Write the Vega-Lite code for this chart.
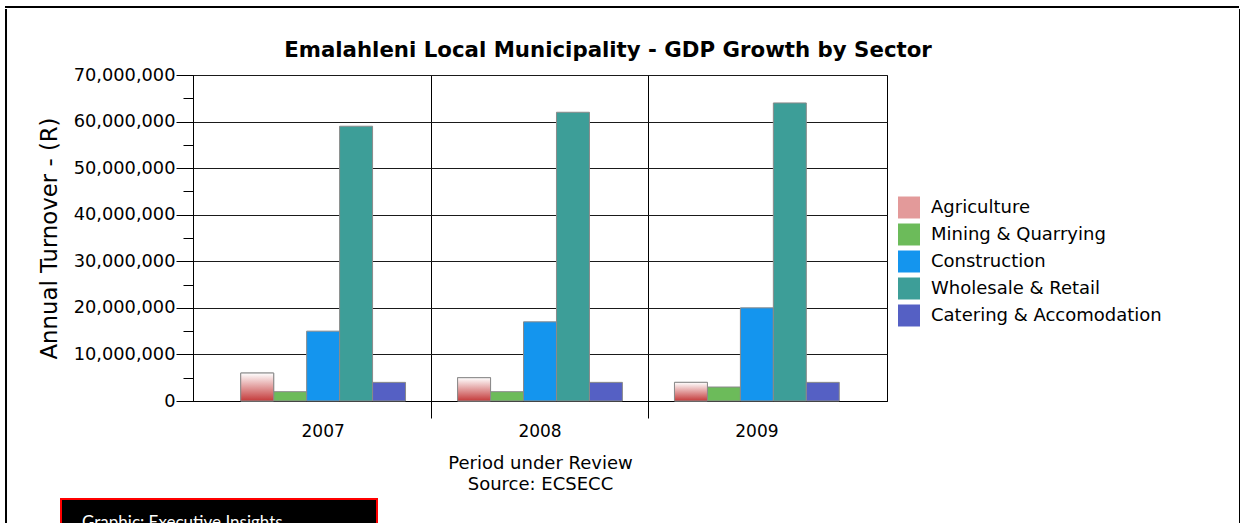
{
  "$schema": "https://vega.github.io/schema/vega-lite/v6.json",
  "background": "white",
  "padding": {"left": 5, "top": 6, "right": 0, "bottom": 0},
  "autosize": {"type": "pad"},
  "config": {
    "font": "DejaVu Sans",
    "view": {"stroke": "#000000", "strokeWidth": 1},
    "axis": {"labelColor": "#000000", "titleColor": "#000000", "domainColor": "#000000", "tickColor": "#000000"}
  },
  "datasets": {
    "gdp": [
      {"year": "2007", "sector": "Agriculture", "turnover": 6000000},
      {"year": "2007", "sector": "Mining & Quarrying", "turnover": 2000000},
      {"year": "2007", "sector": "Construction", "turnover": 15000000},
      {"year": "2007", "sector": "Wholesale & Retail", "turnover": 59000000},
      {"year": "2007", "sector": "Catering & Accomodation", "turnover": 4000000},
      {"year": "2008", "sector": "Agriculture", "turnover": 5000000},
      {"year": "2008", "sector": "Mining & Quarrying", "turnover": 2000000},
      {"year": "2008", "sector": "Construction", "turnover": 17000000},
      {"year": "2008", "sector": "Wholesale & Retail", "turnover": 62000000},
      {"year": "2008", "sector": "Catering & Accomodation", "turnover": 4000000},
      {"year": "2009", "sector": "Agriculture", "turnover": 4000000},
      {"year": "2009", "sector": "Mining & Quarrying", "turnover": 3000000},
      {"year": "2009", "sector": "Construction", "turnover": 20000000},
      {"year": "2009", "sector": "Wholesale & Retail", "turnover": 64000000},
      {"year": "2009", "sector": "Catering & Accomodation", "turnover": 4000000}
    ],
    "footer": [{"label": "Graphic: Executive Insights"}],
    "frame": [{"k": "frame"}]
  },
  "vconcat": [
    {
      "vconcat": [
        {
          "width": 1232,
          "height": 0.01,
          "data": {"name": "frame"},
          "view": {"stroke": "#000000", "strokeWidth": 2, "fill": null},
          "mark": {"type": "text", "text": "", "fontSize": 0},
          "encoding": {}
        },
        {
          "hconcat": [
            {
              "width": 0.01,
              "height": 488,
              "data": {"name": "frame"},
              "view": {"stroke": "#000000", "strokeWidth": 2, "fill": null},
              "mark": {"type": "text", "text": "", "fontSize": 0},
              "encoding": {}
            },
            {
              "concat": [
                {
                  "width": 1,
                  "height": 28.25,
                  "data": {"name": "frame"},
                  "view": {"stroke": null, "fill": null},
                  "mark": {"type": "text", "text": "", "fontSize": 0},
                  "encoding": {}
                },
                {
                  "width": 694,
                  "height": 326,
                  "data": {"name": "gdp"},
                  "title": {
                    "text": "Emalahleni Local Municipality - GDP Growth by Sector",
                    "font": "DejaVu Sans",
                    "fontSize": 21.3,
                    "fontWeight": "bold",
                    "color": "#000000",
                    "anchor": "middle",
                    "frame": "group",
                    "offset": 5,
                    "dx": 68
                  },
                  "resolve": {"axis": {"y": "independent"}},
                  "encoding": {
                    "x": {
                      "field": "year",
                      "type": "nominal",
                      "scale": {"paddingInner": 0, "paddingOuter": 0.1},
                      "axis": {
                        "orient": "bottom",
                        "labelAngle": 0,
                        "labelFontSize": 17,
                        "labelPadding": 5,
                        "tickSize": 17,
                        "bandPosition": 0,
                        "grid": true,
                        "gridColor": {"condition": {"test": "datum.value === '2007'", "value": "transparent"}, "value": "#000000"},
                        "tickColor": {"condition": {"test": "datum.value === '2007'", "value": "transparent"}, "value": "#000000"},
                        "gridOpacity": 1,
                        "domain": true,
                        "title": ["Period under Review", "Source: ECSECC"],
                        "titleFontSize": 18,
                        "titleFontWeight": "normal",
                        "titleLineHeight": 21,
                        "titlePadding": 15
                      }
                    },
                    "xOffset": {
                      "field": "sector",
                      "type": "nominal",
                      "scale": {
                        "domain": ["Agriculture", "Mining & Quarrying", "Construction", "Wholesale & Retail", "Catering & Accomodation"],
                        "paddingInner": 0,
                        "paddingOuter": 0.79
                      }
                    },
                    "y": {
                      "field": "turnover",
                      "type": "quantitative",
                      "scale": {"domain": [0, 70000000]},
                      "axis": {
                        "orient": "left",
                        "values": [0, 10000000, 20000000, 30000000, 40000000, 50000000, 60000000, 70000000],
                        "labelExpr": "format(datum.value, ',')",
                        "labelFontSize": 17.8,
                        "labelPadding": 1,
                        "tickSize": 17,
                        "grid": true,
                        "gridColor": "#1a1a1a",
                        "gridOpacity": 1,
                        "title": "Annual Turnover - (R)",
                        "titleFontSize": 22.8,
                        "titleFontWeight": "normal",
                        "titlePadding": 12
                      }
                    }
                  },
                  "layer": [
                    {
                      "mark": {"type": "bar", "stroke": "#8a8a8a", "strokeWidth": 1},
                      "encoding": {
                        "color": {
                          "field": "sector",
                          "type": "nominal",
                          "scale": {
                            "domain": ["Agriculture", "Mining & Quarrying", "Construction", "Wholesale & Retail", "Catering & Accomodation"],
                            "range": ["#e39a9a", "#6cbb5a", "#1495ee", "#3d9e98", "#5560c4"]
                          },
                          "legend": {
                            "orient": "none",
                            "legendX": 892,
                            "legendY": 189.5,
                            "title": null,
                            "symbolType": "square",
                            "symbolSize": 484,
                            "symbolStrokeWidth": 0,
                            "labelFontSize": 18,
                            "labelColor": "#000000",
                            "labelOffset": 11,
                            "rowPadding": 5,
                            "labelLimit": 400
                          }
                        }
                      }
                    },
                    {
                      "transform": [{"filter": "datum.sector === 'Agriculture'"}],
                      "mark": {
                        "type": "bar",
                        "stroke": "#8a8a8a",
                        "strokeWidth": 1,
                        "color": {"gradient": "linear", "x1": 0, "y1": 0, "x2": 0, "y2": 1, "stops": [{"offset": 0, "color": "#ffffff"}, {"offset": 1, "color": "#c43a3a"}]}
                      },
                      "encoding": {
                        "y": {
                          "field": "turnover",
                          "type": "quantitative",
                          "axis": {
                            "orient": "left",
                            "values": [5000000, 15000000, 25000000, 35000000, 45000000, 55000000, 65000000],
                            "labels": false,
                            "domain": false,
                            "grid": false,
                            "tickSize": 10,
                            "title": null
                          }
                        }
                      }
                    }
                  ]
                }
              ],
              "columns": 1,
              "spacing": 0
            },
            {
              "width": 0.01,
              "height": 488,
              "data": {"name": "frame"},
              "view": {"stroke": "#000000", "strokeWidth": 2, "fill": null},
              "mark": {"type": "text", "text": "", "fontSize": 0},
              "encoding": {
                "y": {
                  "field": "k",
                  "type": "nominal",
                  "axis": {"labels": false, "ticks": false, "domain": false, "title": null, "minExtent": 277, "maxExtent": 277}
                }
              }
            }
          ],
          "spacing": 29
        }
      ],
      "spacing": 0
    },
    {
      "hconcat": [
        {
          "width": 0.01,
          "height": 40,
          "data": {"name": "frame"},
          "view": {"stroke": "#000000", "strokeWidth": 2, "fill": null},
          "mark": {"type": "text", "text": "", "fontSize": 0},
          "encoding": {}
        },
        {
          "width": 316,
          "height": 45,
          "data": {"name": "footer"},
          "view": {"fill": "#000000", "stroke": "#ff0000", "strokeWidth": 2},
          "title": {
            "text": "Graphic: Executive Insights",
            "orient": "top",
            "anchor": "start",
            "frame": "group",
            "offset": -33,
            "dx": 21,
            "font": "Lato",
            "fontSize": 17,
            "fontWeight": "normal",
            "color": "#ffffff"
          },
          "mark": {"type": "text", "text": "", "fontSize": 0},
          "encoding": {}
        },
        {
          "width": 0.01,
          "height": 40,
          "data": {"name": "frame"},
          "view": {"stroke": "#000000", "strokeWidth": 2, "fill": null},
          "mark": {"type": "text", "text": "", "fontSize": 0},
          "encoding": {
            "y": {
              "field": "k",
              "type": "nominal",
              "axis": {"labels": false, "ticks": false, "domain": false, "title": null, "minExtent": 809, "maxExtent": 809}
            }
          }
        }
      ],
      "spacing": 52
    }
  ],
  "spacing": -8.7
}
